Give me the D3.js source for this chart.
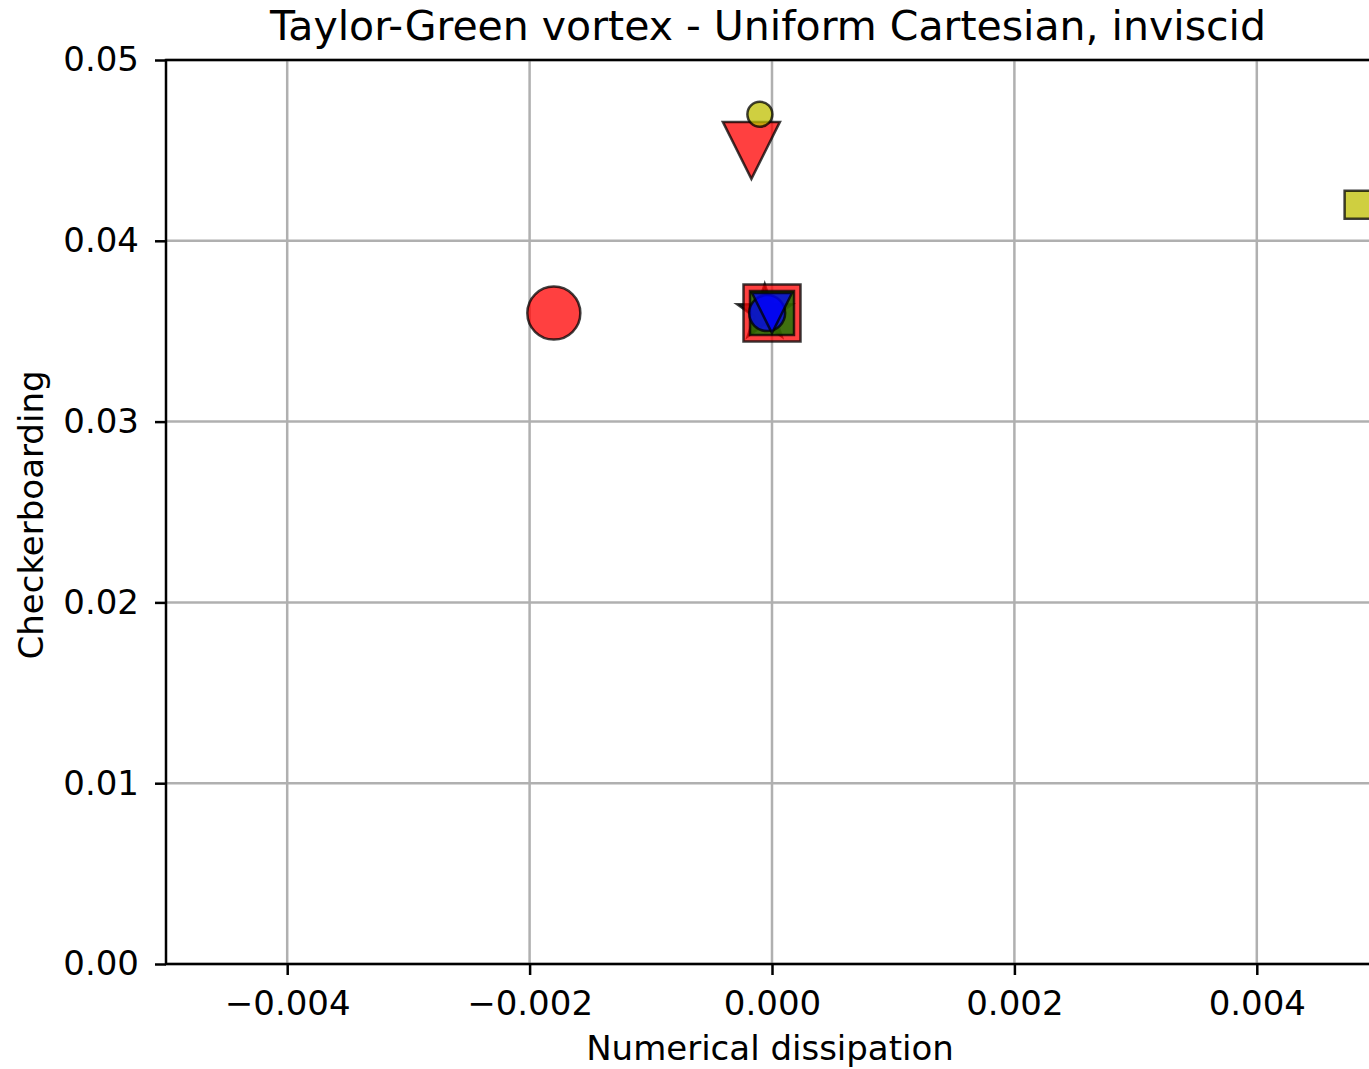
<!DOCTYPE html>
<html>
<head>
<meta charset="utf-8">
<script src="https://cdn.jsdelivr.net/npm/d3@7"></script>
<style>
  body { margin: 0; background: #fff; }
  svg { display: block; font-family: "DejaVu Sans", sans-serif; }
</style>
</head>
<body>
<div id="chart"></div>
<script>
// marker data (draw order = list order)
const pointX     = [-0.0018, -0.00017, -0.0001, 0.00484, -0.00006, 0.0, 0.0, -0.00004, 0.0];
const pointY     = [0.036, 0.045, 0.047, 0.042, 0.036, 0.036, 0.036, 0.036, 0.036];
const pointShape = ["circle", "tridown", "circle", "square", "star", "square", "square", "circle", "tridown"];
const pointColor = ["red", "red", "y", "y", "k", "red", "g", "b", "b"];
const pointSize  = [26.5, 28.5, 12.5, 14, 29, 28.5, 22, 18, 20];

const xTicks = [-0.004, -0.002, 0.000, 0.002, 0.004];
const yTicks = [0.00, 0.01, 0.02, 0.03, 0.04, 0.05];

const colorMap = { red: "#ff0000", y: "#bfbf00", k: "#000000", g: "#008000", b: "#0000ff" };

let W = 1369, H = 1069;
let margin = { top: 60, right: -9, bottom: 105, left: 166 },
    width = W - margin.left - margin.right,
    height = H - margin.top - margin.bottom;

let svg = d3.select("#chart")
    .append("svg")
    .attr("width", W)
    .attr("height", H);

let g = svg.append("g")
    .attr("transform", "translate(" + margin.left + "," + margin.top + ")");

let x = d3.scaleLinear().domain([-0.005, 0.005]).range([0, width]);
let y = d3.scaleLinear().domain([0, 0.05]).range([height, 0]);

let fmtMinus = function(v, digits) {
    return d3.format("." + digits + "f")(v).replace("-", "\u2212");
};

// grid
g.append("g")
   .selectAll("line")
   .data(xTicks)
   .enter()
   .append("line")
   .attr("x1", d => x(d)).attr("x2", d => x(d))
   .attr("y1", 0).attr("y2", height)
   .attr("stroke", "#b0b0b0")
   .attr("stroke-width", 2.5);

g.append("g")
   .selectAll("line")
   .data(yTicks)
   .enter()
   .append("line")
   .attr("x1", 0).attr("x2", width)
   .attr("y1", d => y(d)).attr("y2", d => y(d))
   .attr("stroke", "#b0b0b0")
   .attr("stroke-width", 2.5);

// markers
function markerPath(shape, s) {
    if (shape === "circle") {
        return "M" + s + ",0A" + s + "," + s + " 0 1,1 " + (-s) + ",0A" + s + "," + s + " 0 1,1 " + s + ",0Z";
    }
    if (shape === "square") {
        return "M" + (-s) + "," + (-s) + "H" + s + "V" + s + "H" + (-s) + "Z";
    }
    if (shape === "tridown") {
        return "M" + (-s) + "," + (-s) + "H" + s + "L0," + s + "Z";
    }
    if (shape === "star") {
        let pts = [];
        let inner = s * 0.381966;
        for (let i = 0; i < 10; i++) {
            let r = i % 2 === 0 ? s : inner;
            let a = i * Math.PI / 5;
            pts.push([r * Math.sin(a), -r * Math.cos(a)]);
        }
        return "M" + pts.map(p => p[0].toFixed(2) + "," + p[1].toFixed(2)).join("L") + "Z";
    }
}

let idx = d3.range(pointX.length);

g.append("g")
   .selectAll("path")
   .data(idx)
   .enter()
   .append("path")
   .attr("transform", i => "translate(" + x(pointX[i]) + "," + y(pointY[i]) + ")")
   .attr("d", i => markerPath(pointShape[i], pointSize[i]))
   .attr("fill", i => colorMap[pointColor[i]])
   .attr("fill-opacity", 0.75)
   .attr("stroke", "#000")
   .attr("stroke-opacity", 0.75)
   .attr("stroke-width", 2.5)
   .attr("stroke-linejoin", "miter");

// spines
g.append("rect")
   .attr("x", 0).attr("y", 0)
   .attr("width", width).attr("height", height)
   .attr("fill", "none")
   .attr("stroke", "#000")
   .attr("stroke-width", 2.5);

// axes
let xAxis = g.append("g")
   .attr("transform", "translate(0," + height + ")")
   .call(d3.axisBottom(x).tickValues(xTicks).tickSize(11).tickPadding(16)
         .tickFormat(d => fmtMinus(d, 3)));

let yAxis = g.append("g")
   .call(d3.axisLeft(y).tickValues(yTicks).tickSize(11).tickPadding(16)
         .tickFormat(d => fmtMinus(d, 2)));

[xAxis, yAxis].forEach(function(ax) {
    ax.select(".domain").remove();
    ax.selectAll(".tick line").attr("stroke", "#000").attr("stroke-width", 2.5);
    ax.selectAll(".tick text")
      .attr("font-family", "DejaVu Sans")
      .attr("font-size", "34px")
      .attr("fill", "#000");
});

// labels
svg.append("text")
   .attr("x", margin.left + width / 2 - 2)
   .attr("y", 1060)
   .style("text-anchor", "middle")
   .attr("font-size", "34px")
   .text("Numerical dissipation");

svg.append("text")
   .attr("transform", "translate(43," + (margin.top + height / 2 + 3) + ") rotate(-90)")
   .style("text-anchor", "middle")
   .attr("font-size", "34px")
   .text("Checkerboarding");

svg.append("text")
   .attr("x", 768)
   .attr("y", 40)
   .style("text-anchor", "middle")
   .attr("font-size", "41px")
   .text("Taylor-Green vortex - Uniform Cartesian, inviscid");
</script>
</body>
</html>
